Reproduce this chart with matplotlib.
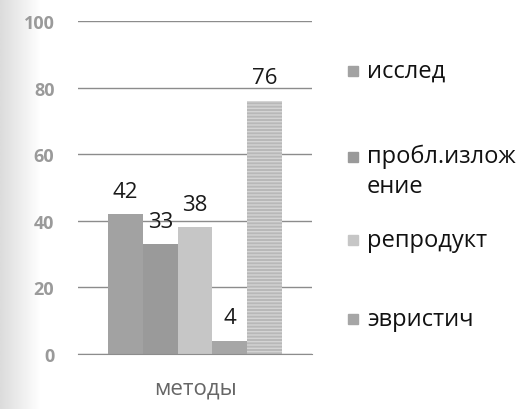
import matplotlib
matplotlib.use("Agg")
import matplotlib.pyplot as plt
import numpy as np

categories = ["методы"]
series_names = ["исслед", "пробл.изложение", "репродукт", "эвристич", "_nolegend_"]
legend_labels = ["исслед", "пробл.излож\nение", "репродукт", "эвристич"]
values = [42, 33, 38, 4, 76]
yticks = [0, 20, 40, 60, 80, 100]

colors = ["#a2a2a2", "#9a9a9a", "#c6c6c6", "#a6a6a6", "#b8b8b8"]

plt.rcParams['font.family'] = ['Open Sans', 'DejaVu Sans']
fig = plt.figure(figsize=(5.25, 4.1), dpi=100)

# scan shadow on the left edge
bg = fig.add_axes([0, 0, 40/525, 1], zorder=-5)
grad = np.linspace(0.86, 1.0, 64)[None, :]
bg.imshow(grad, aspect='auto', cmap='gray', vmin=0, vmax=1, extent=[0, 1, 0, 1])
bg.axis('off')

ax = fig.add_axes([78/525, 1-355/410, (312-78)/525, (355-22)/410])
ax.patch.set_alpha(0)

n = len(values)
w = 0.148
for i, (v, c, name) in enumerate(zip(values, colors, series_names)):
    x = (i - (n - 1) / 2) * w
    b = ax.bar(x, v, width=w, color=c, edgecolor='none', label=name, zorder=2)
    if i == 4:
        b[0].set_hatch('-----')
        b[0].set_edgecolor('#d4d4d4')
        b[0].set_linewidth(0)
    ax.annotate(str(v), (x, v), xytext=(0, 9), textcoords='offset points',
                ha='center', va='bottom', fontsize=16, color='#1a1a1a')

ax.set_xlim(-0.5, 0.5)
ax.set_ylim(0, 100)
ax.set_yticks(yticks)
ax.set_yticklabels([str(t) for t in yticks], color='#9a9a9a', fontsize=13,
                   fontweight='bold')
ax.set_xticks([0])
ax.set_xticklabels(categories, color='#666666', fontsize=16)
ax.tick_params(axis='y', length=0, pad=17)
ax.tick_params(axis='x', length=0, pad=17)
ax.yaxis.grid(True, color='#8c8c8c', linewidth=1.0, zorder=0)
for s in ['top', 'right', 'left']:
    ax.spines[s].set_visible(False)
ax.spines['bottom'].set_color('#8c8c8c')

leg_y = [72, 158, 241, 320]
for lbl, c, yy in zip(legend_labels, colors, leg_y):
    yf = 1 - yy / 410
    fig.patches.append(plt.Rectangle((348/525, yf - 5/410), 10/525, 10/410,
                                     transform=fig.transFigure, color=c))
    if '\n' in lbl:
        fig.text(367/525, yf + 13/410, lbl, fontsize=17, va='top', ha='left',
                 color='#111111', linespacing=1.3)
    else:
        fig.text(367/525, yf, lbl, fontsize=17, va='center', ha='left',
                 color='#111111')
fig.savefig("out.png", dpi=100)
